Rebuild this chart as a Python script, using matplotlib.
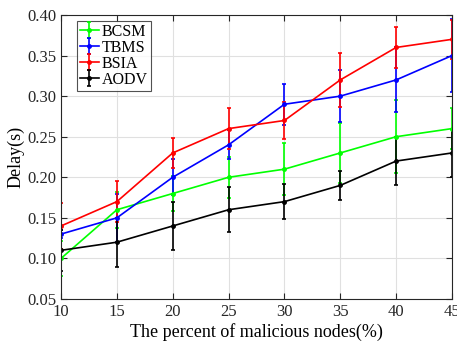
import matplotlib.pyplot as plt

plt.rcParams['font.family'] = ['Liberation Serif', 'DejaVu Serif']
plt.rcParams['mathtext.fontset'] = 'stix'

x = [10, 15, 20, 25, 30, 35, 40, 45]

bcsm = [0.10, 0.16, 0.18, 0.20, 0.21, 0.23, 0.25, 0.26]
bcsm_err = [0.022, 0.022, 0.022, 0.025, 0.032, 0.037, 0.045, 0.025]

tbms = [0.13, 0.15, 0.20, 0.24, 0.29, 0.30, 0.32, 0.35]
tbms_err = [0.005, 0.03, 0.022, 0.018, 0.025, 0.032, 0.04, 0.045]

bsia = [0.14, 0.17, 0.23, 0.26, 0.27, 0.32, 0.36, 0.37]
bsia_err = [0.028, 0.025, 0.018, 0.025, 0.023, 0.033, 0.025, 0.024]

aodv = [0.11, 0.12, 0.14, 0.16, 0.17, 0.19, 0.22, 0.23]
aodv_err = [0.025, 0.03, 0.03, 0.028, 0.022, 0.018, 0.03, 0.03]

fig = plt.figure(figsize=(4.57, 3.41), dpi=100)
ax = fig.add_axes([61 / 457, 42 / 341, 391 / 457, 284 / 341])

series = [(bcsm, bcsm_err, '#00ff00', 'BCSM'),
          (tbms, tbms_err, '#0000ff', 'TBMS'),
          (bsia, bsia_err, '#ff0000', 'BSIA'),
          (aodv, aodv_err, '#000000', 'AODV')]
for y, e, c, name in series:
    ax.errorbar(x, y, yerr=e, color=c, marker='.', markersize=5,
                linewidth=1.2, elinewidth=1.2, capsize=1.5, capthick=1.2,
                label=name)

ax.set_xlim(10, 45)
ax.set_ylim(0.05, 0.40)
ax.set_xticks(x)
ax.set_yticks([0.05, 0.10, 0.15, 0.20, 0.25, 0.30, 0.35, 0.40])
ax.set_yticklabels(['%.2f' % v for v in ax.get_yticks()])
ax.grid(True, color='#e0e0e0', linewidth=0.8)
ax.set_axisbelow(True)
ax.tick_params(direction='in', top=True, right=True, labelsize=12, length=4,
               colors='#262626', labelcolor='#262626')
for s in ax.spines.values():
    s.set_color('#262626')
    s.set_linewidth(0.8)
ax.set_xlabel('The percent of malicious nodes(%)', fontsize=13, labelpad=2)
ax.set_ylabel('Delay(s)', fontsize=13, labelpad=2)

leg = ax.legend(loc='upper left', fontsize=11.5, frameon=True, fancybox=False,
                edgecolor='#262626', handlelength=1.2, handletextpad=0.15,
                borderpad=0.2, labelspacing=0.0, borderaxespad=0.0,
                bbox_to_anchor=(0.04, 0.98))
leg.get_frame().set_linewidth(0.8)

fig.savefig('out.png', dpi=100)
